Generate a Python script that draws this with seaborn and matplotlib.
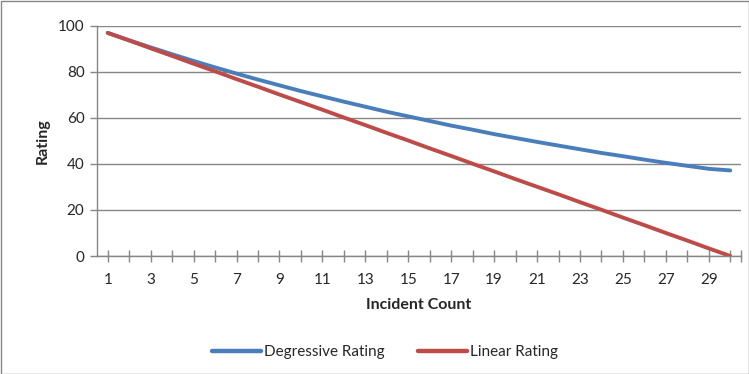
import matplotlib
matplotlib.use("Agg")
import matplotlib.pyplot as plt
import seaborn as sns
import pandas as pd
from matplotlib.patches import Rectangle

incident_count = list(range(1, 31))
degressive = [97.0, 93.8, 90.7, 87.7, 84.8, 82.0, 79.3, 76.7, 74.2, 71.7,
              69.4, 67.1, 64.9, 62.7, 60.7, 58.7, 56.7, 54.9, 53.0, 51.3,
              49.6, 48.0, 46.4, 44.8, 43.4, 41.9, 40.5, 39.2, 37.9, 37.2]
linear = [97.0, 93.7, 90.3, 87.0, 83.6, 80.3, 76.9, 73.6, 70.2, 66.9,
          63.6, 60.2, 56.9, 53.5, 50.2, 46.8, 43.5, 40.1, 36.8, 33.4,
          30.1, 26.8, 23.4, 20.1, 16.7, 13.4, 10.0, 6.7, 3.3, 0.0]
series_names = ["Degressive Rating", "Linear Rating"]
y_ticks = [0, 20, 40, 60, 80, 100]
x_tick_labels = [str(v) for v in range(1, 31, 2)]

df = pd.concat([
    pd.DataFrame({"Incident Count": incident_count, "Rating": degressive, "Series": series_names[0]}),
    pd.DataFrame({"Incident Count": incident_count, "Rating": linear, "Series": series_names[1]}),
])

sns.set_theme(style="white")
plt.rcParams['font.family'] = ['Lato', 'DejaVu Sans']

fig = plt.figure(figsize=(7.49, 3.74), dpi=100)
ax = fig.add_axes([97/749, 1 - 256/374, (741-97)/749, (256-26)/374])

palette = {"Degressive Rating": "#4A7EBB", "Linear Rating": "#BE4B48"}
sns.lineplot(data=df, x="Incident Count", y="Rating", hue="Series", palette=palette,
             linewidth=2.8, ax=ax, legend=False)
for ln in ax.lines:
    ln.set_solid_joinstyle("round")
    ln.set_solid_capstyle("round")

ax.set_xlim(0.5, 30.5)
ax.set_ylim(0, 100)
ax.set_yticks(y_ticks)
ax.set_xticks(list(range(1, 31, 2)))
ax.set_xticklabels(x_tick_labels)
ax.set_xticks(list(range(2, 31, 2)) + [30.5], minor=True)
ax.grid(axis="y", color="#868686", linewidth=1)
ax.set_axisbelow(True)
for s in ["top", "right"]:
    ax.spines[s].set_visible(False)
for s in ["left", "bottom"]:
    ax.spines[s].set_color("#868686")
    ax.spines[s].set_linewidth(1)
ax.tick_params(axis="y", which="major", left=True, length=5, color="#868686", width=1,
               labelsize=11, pad=4)
ax.tick_params(axis="x", which="both", bottom=True, direction="inout", length=8,
               color="#868686", width=1, labelsize=11, pad=8)
ax.tick_params(axis="x", which="minor", labelbottom=False)
ax.set_xlabel("Incident Count", fontsize=11.5, fontweight="bold", labelpad=8)
ax.set_ylabel("Rating", fontsize=11.5, fontweight="bold", labelpad=6)

handles = [plt.Line2D([], [], color=palette[n], linewidth=3.2) for n in series_names]
fig.legend(handles, series_names, loc="center", bbox_to_anchor=(385/749, 1 - 352/374),
           ncol=2, frameon=False, fontsize=11, handlelength=3.2, handletextpad=0.2,
           columnspacing=2.2)

fig.patches.append(Rectangle((0.5/749, 0.5/374), 1 - 1/749, 1 - 1/374, transform=fig.transFigure,
                             fill=False, edgecolor="#868686", linewidth=1))

fig.savefig("out.png", dpi=100)
